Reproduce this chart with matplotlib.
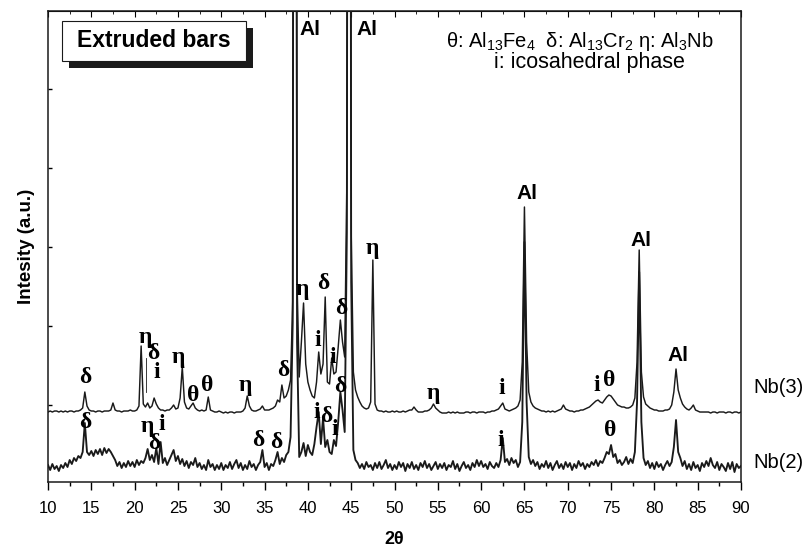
import numpy as np
import matplotlib
matplotlib.use("Agg")
from matplotlib import pyplot as plt
from matplotlib.patches import Rectangle

plt.rcParams['font.family'] = ['Liberation Sans', 'DejaVu Sans']
plt.rcParams['mathtext.fontset'] = 'custom'
plt.rcParams['mathtext.rm'] = 'Liberation Sans'

# 2-theta scan, 0.25 deg step from 10 to 90
tth_step = 0.25
tth = np.arange(10, 90 + tth_step / 2, tth_step)

# intensities (a.u.), one row = 2 degrees
nb3 = [
    70, 71, 70, 71, 71, 70, 71, 70,        # 10
    71, 70, 71, 71, 70, 71, 71, 72,        # 12
    74, 90, 76, 72, 71, 71, 70, 71,        # 14
    71, 70, 71, 71, 71, 72, 79, 72,        # 16
    71, 71, 70, 71, 71, 71, 72, 71,        # 18
    71, 72, 76, 136, 78, 75, 79, 74,       # 20
    76, 84, 78, 74, 72, 72, 71, 72,        # 22
    72, 74, 77, 73, 74, 84, 115, 80,       # 24
    74, 73, 76, 79, 74, 72, 71, 72,        # 26
    71, 72, 85, 72, 71, 70, 70, 71,        # 28
    70, 69, 70, 69, 70, 70, 69, 70,        # 30
    70, 70, 71, 74, 86, 76, 72, 71,        # 32
    71, 72, 73, 76, 72, 72, 72, 73,        # 34
    74, 76, 82, 80, 97, 84, 86, 92,        # 36
    102, 180, 2000, 200, 105, 140, 179, 118,  # 38
    100, 92, 86, 84, 100, 130, 108, 118,   # 40
    185, 100, 98, 124, 108, 110, 135, 162,  # 42
    140, 125, 300, 2000, 250, 110, 92, 85,  # 44
    80, 76, 74, 73, 74, 80, 222, 78,       # 46
    72, 71, 71, 70, 71, 70, 70, 71,        # 48
    70, 71, 70, 70, 71, 70, 71, 72,        # 50
    72, 75, 72, 70, 70, 70, 71, 71,        # 52
    72, 74, 78, 74, 72, 70, 69, 69,        # 54
    69, 70, 69, 70, 69, 70, 69, 69,        # 56
    69, 70, 70, 69, 70, 70, 69, 70,        # 58
    70, 70, 69, 70, 70, 71, 71, 72,        # 60
    73, 76, 79, 73, 72, 71, 72, 73,        # 62
    74, 76, 82, 120, 275, 140, 90, 80,     # 64
    76, 74, 73, 72, 71, 71, 70, 71,        # 66
    70, 71, 70, 71, 72, 73, 77, 73,        # 68
    72, 71, 71, 70, 71, 71, 72, 72,        # 70
    73, 74, 75, 77, 79, 81, 82, 80,        # 72
    79, 82, 85, 87, 86, 83, 80, 77,        # 74
    76, 75, 75, 74, 74, 75, 77, 84,        # 76
    120, 232, 110, 85, 78, 76, 74, 73,     # 78
    72, 72, 71, 71, 71, 72, 72, 73,        # 80
    77, 90, 113, 92, 84, 78, 75, 73,       # 82
    72, 74, 77, 72, 71, 70, 70, 70,        # 84
    70, 70, 69, 70, 70, 69, 70, 70,        # 86
    70, 69, 70, 70, 69, 70, 70, 69,        # 88
    70,
]

nb2 = [
    17, 12, 18, 13, 16, 11, 17, 14,        # 10
    19, 15, 22, 18, 24, 21, 26, 24,        # 12
    30, 59, 30, 27, 31, 26, 32, 28,        # 14
    33, 27, 34, 29, 33, 30, 26, 22,        # 16
    16, 20, 14, 19, 15, 21, 16, 20,        # 18
    15, 22, 17, 21, 19, 24, 33, 22,        # 20
    27, 20, 34, 18, 40, 19, 24, 17,        # 22
    22, 27, 32, 21, 26, 18, 23, 16,        # 24
    21, 14, 20, 17, 24, 15, 19, 13,        # 26
    17, 12, 22, 15, 18, 12, 17, 13,        # 28
    19, 12, 17, 14, 20, 13, 18, 22,        # 30
    14, 19, 12, 17, 13, 21, 15, 18,        # 32
    12, 17, 20, 32, 15, 19, 12, 18,        # 34
    16, 22, 30, 18, 24, 20, 27, 30,        # 36
    45, 160, 2000, 140, 25, 30, 39, 26,    # 38
    37, 30, 27, 38, 55, 70, 38, 64,        # 40
    35, 42, 30, 28, 42, 36, 60, 90,        # 42
    72, 50, 250, 2000, 200, 32, 22, 19,    # 44
    14, 18, 13, 20, 15, 17, 12, 19,        # 46
    14, 20, 13, 17, 22, 14, 18, 12,        # 48
    17, 13, 20, 15, 19, 11, 18, 14,        # 50
    20, 13, 17, 12, 19, 15, 21, 14,        # 52
    18, 12, 16, 20, 13, 18, 14, 19,        # 54
    12, 17, 15, 21, 13, 18, 11, 16,        # 56
    20, 14, 17, 12, 19, 15, 22, 16,        # 58
    21, 15, 18, 13, 20, 16, 14, 19,        # 60
    15, 22, 44, 20, 23, 17, 24, 19,        # 62
    22, 15, 20, 60, 240, 80, 25, 18,       # 64
    22, 16, 20, 13, 18, 15, 21, 14,        # 66
    19, 12, 17, 21, 14, 18, 13, 20,        # 68
    15, 19, 12, 18, 14, 21, 16, 19,        # 70
    13, 18, 15, 20, 17, 22, 16, 21,        # 72
    19, 24, 30, 28, 37, 25, 28, 19,        # 74
    22, 17, 20, 25, 18, 23, 19, 30,        # 76
    80, 210, 60, 24, 17, 21, 14, 19,       # 78
    13, 20, 15, 18, 12, 17, 21, 16,        # 80
    20, 35, 62, 30, 24, 16, 21, 13,        # 82
    18, 12, 20, 14, 17, 11, 19, 15,        # 84
    21, 16, 24, 17, 14, 20, 12, 18,        # 86
    15, 11, 19, 13, 20, 10, 18, 14,        # 88
    16,
]

# phase labels: (symbol, 2theta, intensity)
labels_nb3 = [
    ('δ', 14.27, 105), ('η', 21.20, 145), ('δ', 22.12, 129), ('i', 22.58, 110),
    ('η', 25.01, 125), ('θ', 26.74, 87), ('θ', 28.35, 97), ('η', 32.74, 97),
    ('δ', 37.13, 112), ('η', 39.32, 193), ('δ', 41.75, 199), ('i', 41.17, 142),
    ('i', 42.90, 125), ('δ', 43.82, 174), ('η', 47.40, 234), ('η', 54.44, 89),
    ('i', 62.41, 94), ('i', 73.38, 97), ('θ', 74.76, 102),
]
labels_nb2 = [
    ('δ', 14.27, 60), ('η', 21.43, 56), ('i', 23.16, 58), ('δ', 22.24, 39),
    ('δ', 34.24, 42), ('δ', 36.32, 40), ('i', 41.05, 70), ('δ', 42.10, 66),
    ('δ', 43.71, 96), ('i', 43.13, 53), ('i', 62.30, 42), ('θ', 74.88, 52),
]
labels_al = [(40.25, 452), (46.77, 452), (65.30, 289), (78.46, 242), (82.73, 127)]

fig = plt.figure(figsize=(8.07, 5.47), dpi=100)
ax = fig.add_axes([0.0595, 0.1188, 0.8587, 0.8611])

ax.plot(tth, nb2, color='#1a1a1a', lw=1.35)
ax.plot(tth, nb3, color='#1a1a1a', lw=1.05)

ax.set_xlim(10, 90)
ax.set_ylim(0, 471)

# axis ticks
ax.set_xticks(np.arange(10, 91, 5))
ax.set_xticks(np.arange(10, 91, 2.5), minor=True)
ax.set_yticks([77, 156, 235, 314, 393])
ax.set_yticklabels([])
ax.tick_params(axis='x', which='major', direction='out', length=5.5, width=1,
               labelsize=12, pad=8)
ax.tick_params(axis='x', which='minor', direction='out', length=3, width=1)
ax.tick_params(axis='y', direction='in', length=3, width=1)
for s in ax.spines.values():
    s.set_linewidth(1.1)
    s.set_color('#1a1a1a')

# top ticks inward, drawn as a secondary axis
top = ax.secondary_xaxis('top')
top.set_xticks(np.arange(10, 91, 5))
top.set_xticks(np.arange(10, 91, 2.5), minor=True)
top.tick_params(which='major', direction='in', length=4, labeltop=False)
top.tick_params(which='minor', direction='in', length=2.5)

ax.set_xlabel('2θ', fontsize=13, fontweight='bold', labelpad=11)
ax.set_ylabel('Intesity (a.u.)', fontsize=13.5, fontweight='bold', labelpad=6)

# peak labels
for sym, x, y in labels_nb3 + labels_nb2:
    ax.text(x, y, sym, ha='center', va='center', fontsize=17, fontweight='bold',
            family=['Liberation Serif', 'DejaVu Serif'])
for x, y in labels_al:
    ax.text(x, y, 'Al', ha='center', va='center', fontsize=15, fontweight='bold')
# leader line for the small delta peak
ax.plot([21.35, 21.35], [90, 124], color='#1a1a1a', lw=0.6)

ax.text(91.4, 95, 'Nb(3)', ha='left', va='center', fontsize=14.5, clip_on=False)
ax.text(91.4, 20, 'Nb(2)', ha='left', va='center', fontsize=14.5, clip_on=False)

# phase key
ax.text(71.4, 440, 'θ: Al$_{13}$Fe$_4$  δ: Al$_{13}$Cr$_2$ η: Al$_3$Nb',
        ha='center', va='center', fontsize=14.5)
ax.text(72.45, 419, 'i: icosahedral phase', ha='center', va='center', fontsize=15.5)

# boxed title with drop shadow
ax.add_patch(Rectangle((0.0303, 0.8789), 0.2655, 0.085, transform=ax.transAxes,
                       facecolor='#1a1a1a', edgecolor='none', zorder=5))
ax.add_patch(Rectangle((0.0202, 0.8938), 0.2655, 0.085, transform=ax.transAxes,
                       facecolor='white', edgecolor='#1a1a1a', lw=0.8, zorder=6))
ax.text(0.153, 0.9363, 'Extruded bars', transform=ax.transAxes, ha='center',
        va='center', fontsize=16.5, fontweight='bold', zorder=7)

fig.savefig('out.png', dpi=100)
